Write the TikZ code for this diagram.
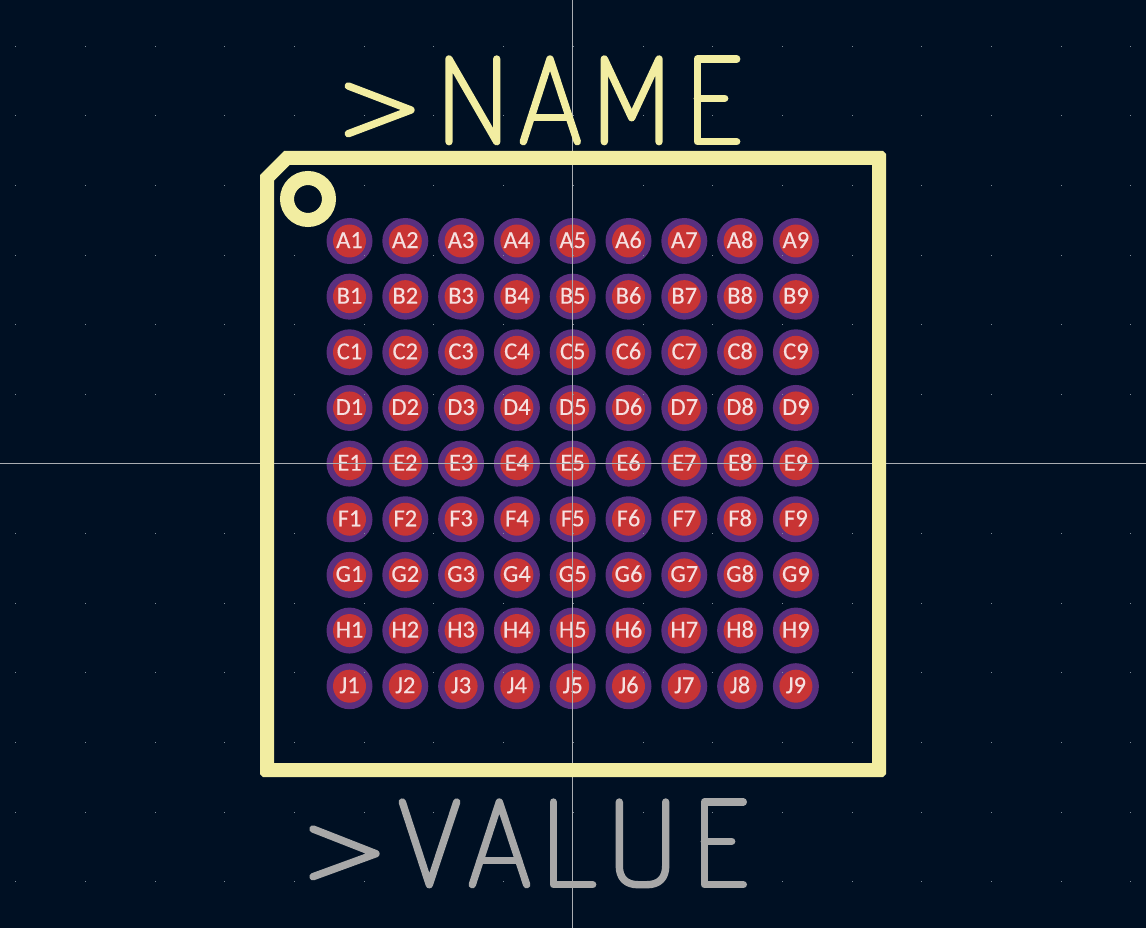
\documentclass[tikz,border=0pt]{standalone}
\usepackage{fontspec}
\setmainfont{Noto Sans}
\newfontfamily\padfont[FakeBold=0.2]{Carlito}
\definecolor{bgc}{HTML}{001023}
\definecolor{silk}{HTML}{F2EDA1}
\definecolor{fab}{HTML}{A8A8A8}
\definecolor{ringc}{HTML}{5A2F7E}
\definecolor{padc}{HTML}{C83434}
\definecolor{padtxt}{HTML}{F5E0E0}
\definecolor{crossc}{HTML}{A9ADB2}
\definecolor{gridc}{HTML}{7F8C99}
\tikzset{
  padring/.style={circle,fill=ringc,draw=none,inner sep=0pt,minimum size=46pt},
  padcore/.style={circle,fill=padc,draw=none,inner sep=0pt,minimum size=33pt,
    text=padtxt,font=\padfont\fontsize{24.5}{24.5}\selectfont,text height=15.5pt,text depth=1.5pt},
  nameglyph/.style={draw=silk,line width=7.4pt,line join=round,line cap=round},
  valueglyph/.style={draw=fab,line width=7.4pt,line join=round,line cap=round}
}
\begin{document}
\begin{tikzpicture}[x=1pt,y=-1pt]
\useasboundingbox (0,0) rectangle (1146,928);
\fill[bgc] (0,0) rectangle (1146,928);
% pads
\foreach \r [count=\j from 0] in {A,B,C,D,E,F,G,H,J}{
  \foreach \c in {1,...,9}{
    \pgfmathsetmacro{\px}{349.5+(\c-1)*55.8}
    \pgfmathsetmacro{\py}{241+\j*55.65}
    \node[padring] (ring\r\c) at (\px,\py) {};
    \node[padcore] (pad\r\c) at (\px,\py) {\r\c};
  }
}
% grid dots
\foreach \k in {0,...,16}{
  \foreach \m in {0,...,12}{
    \pgfmathsetmacro{\gx}{round(15.3+\k*69.7)}
    \pgfmathsetmacro{\gy}{round(45.6+\m*69.65)}
    \fill[gridc] (\gx,\gy) rectangle +(1,1);
  }
}
% crosshair
\fill[crossc] (572,0) rectangle (573,928);
\fill[crossc] (0,463) rectangle (1146,464);
% outline
\fill[silk,even odd rule]
  (260,175) -- (284,151) -- (883,151) -- (886,154) -- (886,774) -- (883,777) -- (263,777) -- (260,774) -- cycle
  (274,180.5) -- (289.5,165) -- (872,165) -- (872,763) -- (274,763) -- cycle;
\draw[draw=silk,line width=14pt] (308,199) circle (21);
% >NAME
\draw[nameglyph] (348.3,86) -- (411,110) -- (348.3,133.7);
\draw[nameglyph] (449,141.7) -- (449,59) -- (496.7,141.7) -- (496.7,59);
\draw[nameglyph] (523.3,141.7) -- (550,59) -- (577.3,141.7);
\draw[nameglyph] (531.7,117.3) -- (568.3,117.3);
\draw[nameglyph] (604.3,141.7) -- (604.3,59) -- (631.7,117.7) -- (659,59) -- (659,141.7);
\draw[nameglyph] (736.7,59) -- (697.3,59) -- (697.3,141.7) -- (736.7,141.7);
\draw[nameglyph] (697.3,98.3) -- (724.7,98.3);
% >VALUE
\draw[valueglyph] (313,829) -- (376,853.7) -- (313,876.7);
\draw[valueglyph] (402.3,802) -- (429.3,884.7) -- (456.7,802);
\draw[valueglyph] (472.3,884.7) -- (499.3,802) -- (526.7,884.7);
\draw[valueglyph] (480.3,860.7) -- (518.7,860.7);
\draw[valueglyph] (553.3,802) -- (553.3,884.7) -- (592.7,884.7);
\draw[valueglyph] (619.3,802) -- (619.3,866) .. controls (619.3,878) and (626,884.7) .. (638,884.7) -- (647,884.7) .. controls (659,884.7) and (665.7,878) .. (665.7,866) -- (665.7,802);
\draw[valueglyph] (743.3,802) -- (704.3,802) -- (704.3,884.7) -- (743.3,884.7);
\draw[valueglyph] (704.3,841.3) -- (731.7,841.3);
\end{tikzpicture}
\end{document}
